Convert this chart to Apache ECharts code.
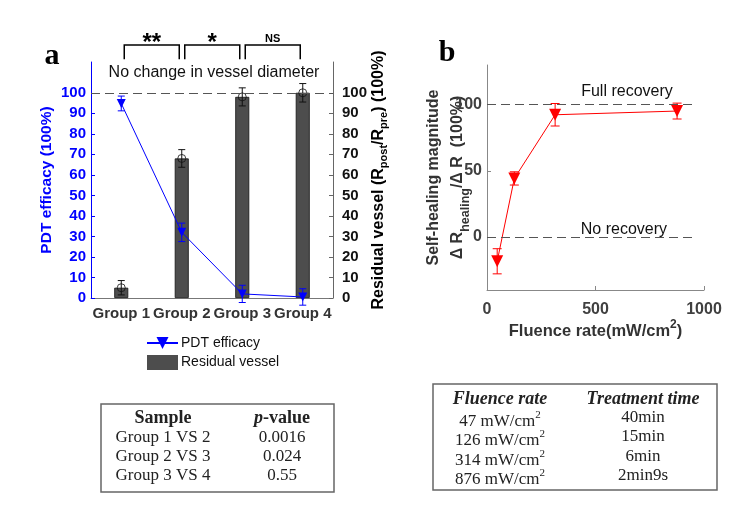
<!DOCTYPE html>
<html><head><meta charset="utf-8">
<script src="https://cdn.jsdelivr.net/npm/echarts@6/dist/echarts.min.js"></script>
<style>html,body{margin:0;padding:0;background:#fff}#c{width:755px;height:518px}</style>
</head><body><div id="c"></div>
<script>
// ---- Data ----
const groups = ['Group 1', 'Group 2', 'Group 3', 'Group 4'];
const residualVessel = [5, 68, 98, 100];
const residualErr = [3.5, 4.3, 4.4, 4.5];
const pdtEfficacy = [94.8, 32, 2, 0.5];
const pdtErr = [3.6, 4.5, 4.2, 4.0];
const leftTicks = [0, 10, 20, 30, 40, 50, 60, 70, 80, 90, 100];
const sigPairs = [[0, 1, '**'], [1, 2, '*'], [2, 3, 'NS']];

const fluenceRate = [47, 126, 314, 876];
const healing = [-18.3, 44.3, 92.4, 95.2];
const healingErr = [9.5, 5, 8.5, 6];
const bXTicks = [0, 500, 1000];
const bYTicks = [0, 50, 100];
const bRefLines = [100, 0];
const bRefLabels = ['Full recovery', 'No recovery'];

const pTableHeader = ['Sample', 'p-value'];
const pTableRows = [['Group 1 VS 2', '0.0016'], ['Group 2 VS 3', '0.024'], ['Group 3 VS 4', '0.55']];
const fTableHeader = ['Fluence rate', 'Treatment time'];
const fTableRates = ['47', '126', '314', '876'];
const fTableTimes = ['40min', '15min', '6min', '2min9s'];

// ---- Chart ----
const SANS = 'Liberation Sans, Arial, sans-serif';
const SERIF = 'Liberation Serif, Times New Roman, serif';
const chart = echarts.init(document.getElementById('c'));

function errRender(color, hw) {
  return function (params, api) {
    const x = api.value(0), y = api.value(1), e = api.value(2);
    const t = api.coord([x, y + e]), b = api.coord([x, y - e]);
    const style = { stroke: color, lineWidth: 1 };
    return { type: 'group', children: [
      { type: 'line', shape: { x1: t[0], y1: t[1], x2: b[0], y2: b[1] }, style },
      { type: 'line', shape: { x1: t[0] - hw, y1: t[1], x2: t[0] + hw, y2: t[1] }, style },
      { type: 'line', shape: { x1: b[0] - hw, y1: b[1], x2: b[0] + hw, y2: b[1] }, style }
    ] };
  };
}

const BR_TOP = 123.3, BR_LEG = 116.4;
function bracketRender(params, api) {
  const a = api.value(0), b = api.value(1);
  const lab = sigPairs[params.dataIndex][2];
  const l = api.coord([a, BR_TOP]), r = api.coord([b, BR_TOP]);
  const lb = api.coord([a, BR_LEG]);
  const x1 = l[0] + 3, x2 = r[0] - 2.5;
  const big = lab !== 'NS';
  return { type: 'group', children: [
    { type: 'polyline', shape: { points: [[x1, lb[1]], [x1, l[1]], [x2, l[1]], [x2, lb[1]]] },
      style: { stroke: '#000', lineWidth: 1.5, fill: null } },
    { type: 'text', x: (x1 + x2) / 2, y: big ? l[1] - 2 : l[1] - 6,
      style: { text: lab, align: 'center', verticalAlign: 'middle',
        font: big ? 'bold 24px ' + SANS : 'bold 11px ' + SANS, fill: '#000' } }
  ] };
}

const subRich = {
  n: { fontSize: 16, fontWeight: 'bold', fontFamily: SANS, color: '#000', lineHeight: 16, verticalAlign: 'top' },
  s: { fontSize: 11, fontWeight: 'bold', fontFamily: SANS, color: '#000', lineHeight: 11, verticalAlign: 'top', padding: [8, 0, 0, 0] }
};
const bNameRich = {
  m: { fontSize: 16, fontWeight: 'bold', fontFamily: SANS, color: '#333', lineHeight: 24, verticalAlign: 'top' },
  n: { fontSize: 16, fontWeight: 'bold', fontFamily: SANS, color: '#333', lineHeight: 16, verticalAlign: 'top' },
  s: { fontSize: 12.5, fontWeight: 'bold', fontFamily: SANS, color: '#333', lineHeight: 12, verticalAlign: 'top', padding: [9, 0, 0, 0] }
};
const supRichB = {
  n: { fontSize: 16.5, fontWeight: 'bold', fontFamily: SANS, color: '#333', lineHeight: 16, verticalAlign: 'top', padding: [4, 0, 0, 0] },
  p: { fontSize: 12, fontWeight: 'bold', fontFamily: SANS, color: '#333', lineHeight: 12, verticalAlign: 'top' }
};

// tables
const graphics = [];
function tText(x, y, text, font, rich) {
  graphics.push({ type: 'text', x: x, y: y, z: 10,
    style: { text: text, font: font, fill: '#222', align: 'center', verticalAlign: 'middle', rich: rich } });
}
graphics.push({ type: 'rect', shape: { x: 101, y: 404, width: 233, height: 88 },
  style: { fill: '#fff', stroke: '#666', lineWidth: 1.5 } });
const pCols = [163, 282], pRowsY = [418, 438, 457, 476];
tText(pCols[0], pRowsY[0], pTableHeader[0], 'bold 18px ' + SERIF);
tText(pCols[1], pRowsY[0], '{i|p}{b|-value}', 'bold 18px ' + SERIF, {
  i: { fontFamily: SERIF, fontSize: 18, fontWeight: 'bold', fontStyle: 'italic', fill: '#222' },
  b: { fontFamily: SERIF, fontSize: 18, fontWeight: 'bold', fill: '#222' } });
pTableRows.forEach((r, i) => {
  tText(pCols[0], pRowsY[i + 1], r[0], '17px ' + SERIF);
  tText(pCols[1], pRowsY[i + 1], r[1], '17px ' + SERIF);
});
graphics.push({ type: 'rect', shape: { x: 433, y: 384, width: 284, height: 106 },
  style: { fill: '#fff', stroke: '#666', lineWidth: 1.5 } });
const fCols = [500, 643], fRowsY = [399, 418, 437, 457, 476];
tText(fCols[0], fRowsY[0], fTableHeader[0], 'italic bold 18px ' + SERIF);
tText(fCols[1], fRowsY[0], fTableHeader[1], 'italic bold 18px ' + SERIF);
const supT = {
  t: { fontFamily: SERIF, fontSize: 17, lineHeight: 17, verticalAlign: 'top', padding: [4, 0, 0, 0], fill: '#222' },
  p: { fontFamily: SERIF, fontSize: 11, lineHeight: 11, verticalAlign: 'top', fill: '#222' } };
fTableRates.forEach((v, i) => {
  tText(fCols[0], fRowsY[i + 1], '{t|' + v + ' mW/cm}{p|2}', '17px ' + SERIF, supT);
  tText(fCols[1], fRowsY[i + 1], fTableTimes[i], '17px ' + SERIF);
});
graphics.push({ type: 'text', x: 52, y: 56, style: { text: 'a', font: 'bold 30px ' + SERIF, fill: '#000', align: 'center', verticalAlign: 'middle' } });
graphics.push({ type: 'text', x: 447, y: 53, style: { text: 'b', font: 'bold 30px ' + SERIF, fill: '#000', align: 'center', verticalAlign: 'middle' } });
graphics.push({ type: 'text', x: 214, y: 73, style: { text: 'No change in vessel diameter', font: '16px ' + SANS, fill: '#111', align: 'center', verticalAlign: 'middle' } });

const option = {
  animation: false,
  backgroundColor: '#fff',
  grid: [
    { left: 91, top: 62, width: 242, height: 236, containLabel: false, outerBoundsMode: 'none' },
    { left: 487, top: 65, width: 217, height: 225, containLabel: false, outerBoundsMode: 'none' }
  ],
  legend: {
    data: [{ name: 'PDT efficacy' }, { name: 'Residual vessel', icon: 'rect', itemStyle: { borderWidth: 0, color: '#4d4d4d' } }],
    orient: 'vertical', left: 141, top: 331,
    itemWidth: 31, itemHeight: 15, itemGap: 5, selectedMode: false,
    textStyle: { fontSize: 14, fontFamily: SANS, color: '#111', padding: [0, 0, 0, -2] }
  },
  xAxis: [
    { type: 'category', gridIndex: 0, data: groups, boundaryGap: true,
      axisLine: { lineStyle: { color: '#777', width: 1 } }, axisTick: { show: false },
      axisLabel: { interval: 0, fontSize: 15, fontWeight: 'bold', fontFamily: SANS, color: '#333', margin: 8 } },
    { type: 'value', gridIndex: 1, min: 0, max: 1000, interval: 500,
      splitLine: { show: false },
      axisLine: { show: true, onZero: false, lineStyle: { color: '#888', width: 1 } },
      axisTick: { show: true, inside: true, length: 4, lineStyle: { color: '#888' } },
      axisLabel: { fontSize: 16, fontWeight: 'bold', fontFamily: SANS, color: '#404040', margin: 12, formatter: v => String(v) },
      name: '{n|Fluence rate(mW/cm}{p|2}{n|)}', nameLocation: 'middle', nameGap: 29,
      nameTextStyle: { rich: supRichB } }
  ],
  yAxis: [
    { type: 'value', gridIndex: 0, min: 0, max: 115, position: 'left',
      splitLine: { show: false },
      axisLine: { show: true, lineStyle: { color: '#0000ff', width: 1 } },
      axisTick: { show: true, inside: true, length: 4, customValues: leftTicks, lineStyle: { color: '#0000ff' } },
      axisLabel: { customValues: leftTicks, fontSize: 15, fontWeight: 'bold', fontFamily: SANS, color: '#0000ff', margin: 5 },
      name: 'PDT efficacy (100%)', nameLocation: 'middle', nameGap: 36,
      nameTextStyle: { fontSize: 15.5, fontWeight: 'bold', fontFamily: SANS, color: '#0000ff' } },
    { type: 'value', gridIndex: 0, min: 0, max: 115, position: 'right',
      splitLine: { show: false },
      axisLine: { show: true, lineStyle: { color: '#666', width: 1 } },
      axisTick: { show: true, inside: true, length: 4, customValues: leftTicks, lineStyle: { color: '#666' } },
      axisLabel: { customValues: leftTicks, fontSize: 15, fontWeight: 'bold', fontFamily: SANS, color: '#111', margin: 9 },
      name: '{n|Residual vessel (R}{s|post}{n|/R}{s|pre}{n|) (100%)}', nameLocation: 'middle', nameGap: 36, nameRotate: 90,
      nameTextStyle: { rich: subRich } },
    { type: 'value', gridIndex: 1, min: -40, max: 130,
      splitLine: { show: false },
      axisLine: { show: true, onZero: false, lineStyle: { color: '#888', width: 1 } },
      axisTick: { show: true, inside: true, length: 4, customValues: bYTicks, lineStyle: { color: '#888' } },
      axisLabel: { customValues: bYTicks, fontSize: 16, fontWeight: 'bold', fontFamily: SANS, color: '#404040', margin: 5 },
      name: '{m|Self-healing magnitude}\n{n|Δ R}{s|healing}{n|/Δ R  (100%)}', nameLocation: 'middle', nameGap: 21,
      nameMoveOverlap: false,
      nameTextStyle: { rich: bNameRich, align: 'center' } }
  ],
  series: [
    { name: 'Residual vessel', type: 'bar', xAxisIndex: 0, yAxisIndex: 1, data: residualVessel, barWidth: 14,
      itemStyle: { color: '#4d4d4d', borderColor: '#111', borderWidth: 0.8 }, z: 2,
      markLine: { silent: true, symbol: 'none', label: { show: false },
        lineStyle: { type: [9, 5], color: '#555', width: 1 }, data: [{ yAxis: 100 }] } },
    { type: 'custom', xAxisIndex: 0, yAxisIndex: 1, renderItem: errRender('#111', 3.5), z: 3,
      encode: { x: 0, y: 1 }, data: groups.map((g, i) => [i, residualVessel[i], residualErr[i]]) },
    { type: 'scatter', xAxisIndex: 0, yAxisIndex: 1, data: residualVessel, symbol: 'circle', symbolSize: 8, z: 4,
      itemStyle: { color: 'rgba(0,0,0,0)', borderColor: '#111', borderWidth: 1 } },
    { type: 'custom', xAxisIndex: 0, yAxisIndex: 0, renderItem: errRender('#0000ff', 3.5), z: 5,
      encode: { x: 0, y: 1 }, data: groups.map((g, i) => [i, pdtEfficacy[i], pdtErr[i]]) },
    { name: 'PDT efficacy', type: 'line', xAxisIndex: 0, yAxisIndex: 0, data: pdtEfficacy, z: 6,
      symbol: 'triangle', symbolRotate: 180, symbolSize: 9, showSymbol: true,
      lineStyle: { color: '#0000ff', width: 1 }, itemStyle: { color: '#0000ff' } },
    { type: 'custom', xAxisIndex: 0, yAxisIndex: 0, renderItem: bracketRender, z: 7,
      encode: { x: 0, y: 1 }, data: sigPairs.map(p => [p[0], p[1]]) },
    // panel b
    { type: 'custom', xAxisIndex: 1, yAxisIndex: 2, renderItem: errRender('#ff0000', 4.5), z: 3,
      encode: { x: 0, y: 1 }, data: fluenceRate.map((f, i) => [f, healing[i], healingErr[i]]) },
    { type: 'line', xAxisIndex: 1, yAxisIndex: 2, data: fluenceRate.map((f, i) => [f, healing[i]]), z: 4,
      symbol: 'triangle', symbolRotate: 180, symbolSize: 12,
      lineStyle: { color: '#ff0000', width: 1 }, itemStyle: { color: '#ff0000' },
      markLine: { silent: true, symbol: 'none', label: { show: false },
        lineStyle: { type: [9, 5], color: '#555', width: 1 },
        data: bRefLines.map(v => [{ coord: [0, v] }, { coord: [950, v] }]) },
      markPoint: { silent: true, symbol: 'circle', symbolSize: 1,
        itemStyle: { color: 'rgba(0,0,0,0)' },
        label: { show: true, position: 'inside', fontSize: 16, fontFamily: SANS, color: '#111', formatter: p => p.name },
        data: [{ name: bRefLabels[0], coord: [645, 110] }, { name: bRefLabels[1], coord: [631, 5.5] }] } }
  ],
  graphic: graphics
};
chart.setOption(option);
</script></body></html>
